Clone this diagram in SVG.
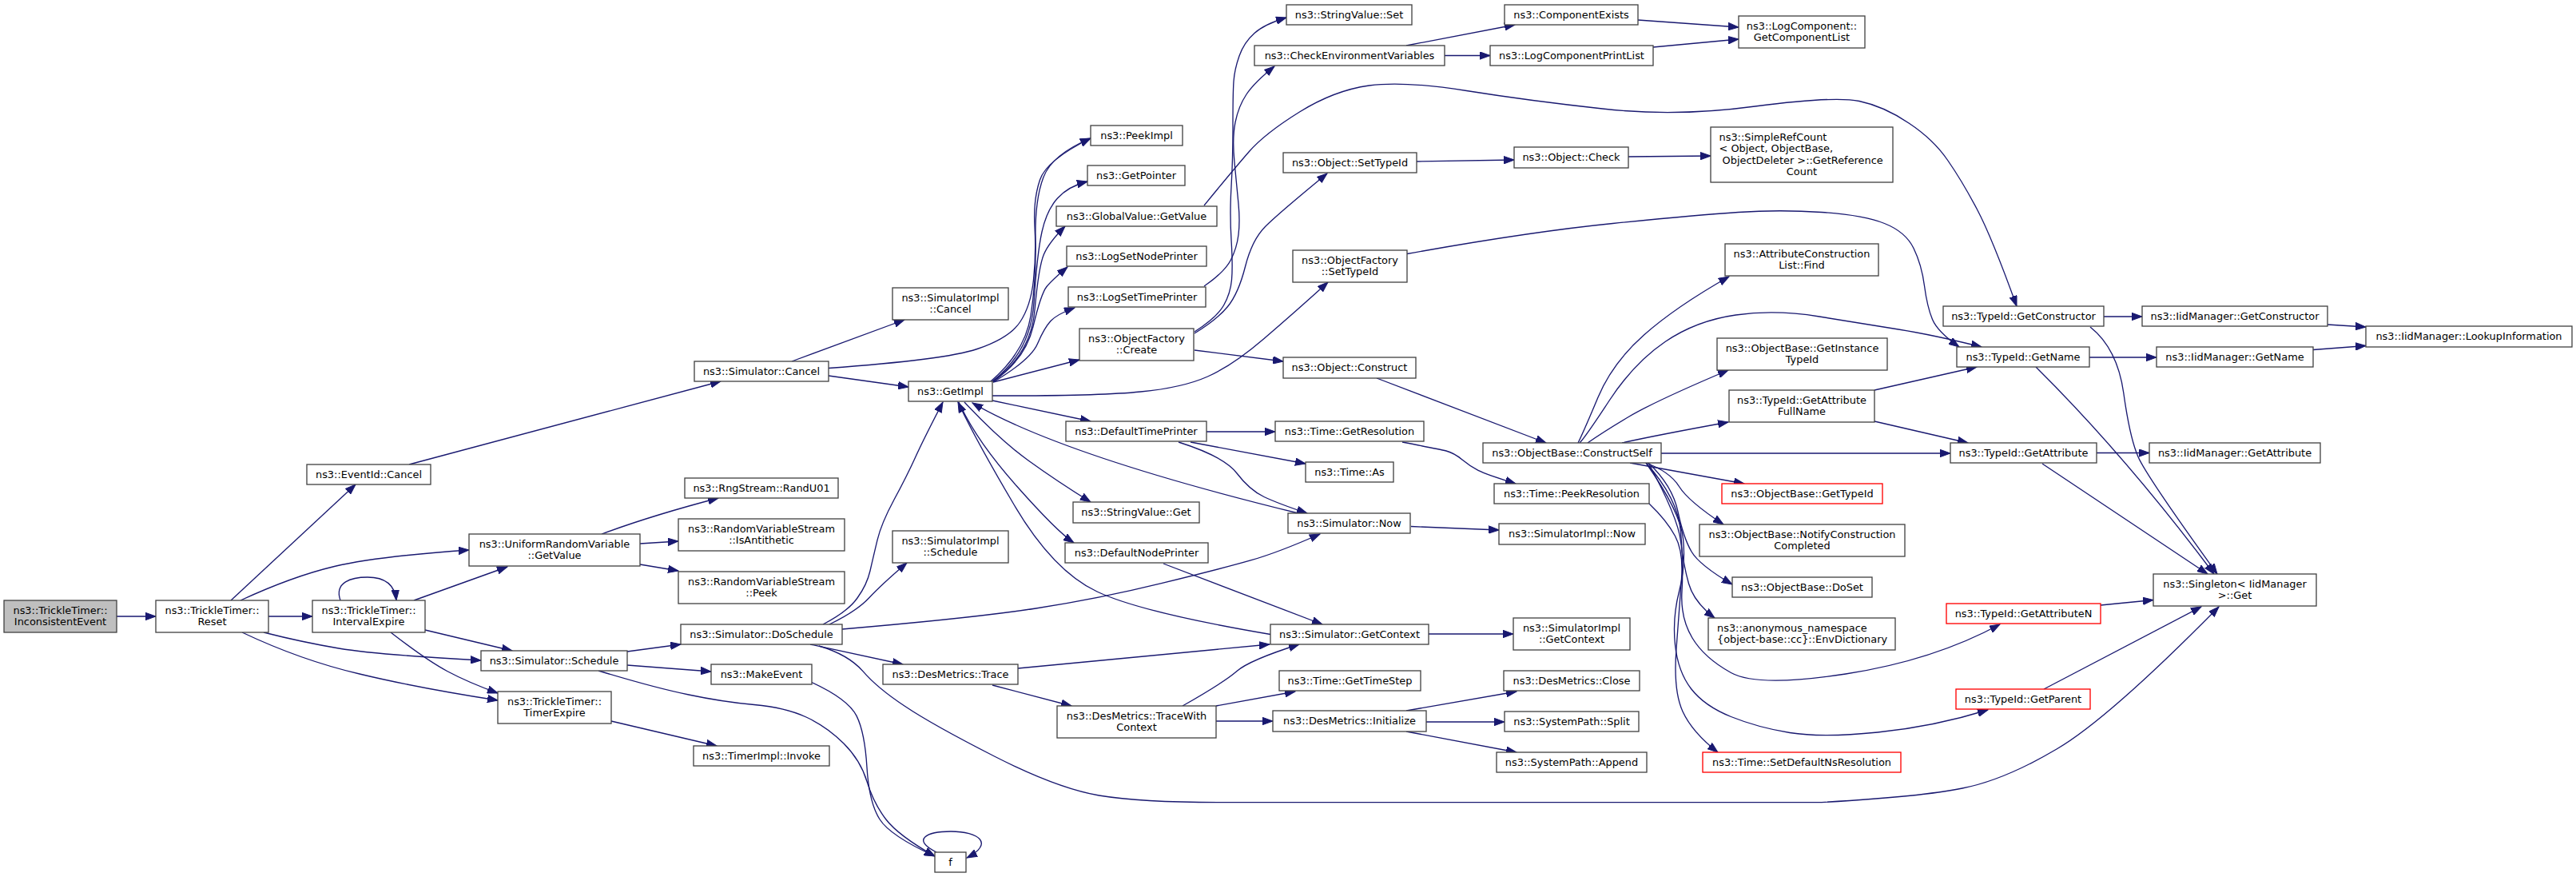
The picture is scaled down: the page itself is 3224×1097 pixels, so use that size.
<svg xmlns="http://www.w3.org/2000/svg" width="3224" height="1097" viewBox="0 0 3224 1097">
<defs>
<marker id="ah" markerWidth="14" markerHeight="10" refX="13" refY="5" orient="auto" markerUnits="userSpaceOnUse"><path d="M0,0.3 L13,5 L0,9.7 Z" fill="#191970" stroke="#191970" stroke-width="1"/></marker>
</defs>
<style>
.bg{fill:#fff;stroke:none}
.e path{fill:none;stroke:#191970;stroke-width:1.33;marker-end:url(#ah)}
.n rect{fill:#fff;stroke:#444;stroke-width:1.33}
.r rect{stroke:#ff0000}
.root rect{fill:#bfbfbf}
text{font-family:"DejaVu Sans",sans-serif;font-size:12.9px;fill:#000;text-anchor:middle}
text.l{text-anchor:start}
</style>
<rect class="bg" x="0" y="0" width="3224" height="1097"/>
<g id="edges" class="e">
<path d="M146,771 L195,771"/>
<path d="M289,751 L445,606"/>
<path d="M301,751 Q366,721 418.5,708.5 Q471,696 587,688"/>
<path d="M336,771 L391,771"/>
<path d="M330,791 Q377,803 424,811 Q471,819 602,826"/>
<path d="M303,791 Q377,826 450,843 Q523,860.5 623,876"/>
<path d="M426,751 C418,728 440,722 460,722 C480,722 494,730 496,751"/>
<path d="M518,751 L635,709"/>
<path d="M532,788 L641,814"/>
<path d="M489,791 Q533.5,825.6 559.6,839.5 Q585.8,853.5 623,867"/>
<path d="M512,581 L902,477"/>
<path d="M753,668 Q815,645 899,623"/>
<path d="M801,680 L849,677"/>
<path d="M801,706 L849,714"/>
<path d="M785,815 L852,806"/>
<path d="M785,832 L890,840"/>
<path d="M749,839 Q820,860.5 862,869 Q904.6,878 944,881.5 Q983,885 1009,897 Q1035,909 1056,930 Q1077,951 1085,977.5 Q1093,1004 1108.5,1024.5 Q1124,1045 1170,1071"/>
<path d="M1016,853.5 Q1061.5,874.5 1072,895.4 Q1082.4,916.3 1085,960 Q1087.7,1003.6 1100.8,1024.5 Q1113.8,1045.4 1170,1071"/>
<path d="M1172,1066 C1140,1050 1160,1040 1190,1040 C1225,1040 1245,1055 1210,1073"/>
<path d="M765,902 L897,933"/>
<path d="M991,452 L1132,400"/>
<path d="M1037,470 L1137,484"/>
<path d="M1037,460.5 Q1183,450 1223,436.5 Q1263,423 1276.5,403 Q1290,383 1293.5,350 Q1297,317 1295,283.5 Q1293,250 1301.5,225 Q1310,200 1365,173"/>
<path d="M1240,477 Q1283,440 1290,395 Q1297,350 1296,300 Q1295,250 1306,221.5 Q1317,193 1365,173"/>
<path d="M1242,477 Q1290,440 1294,378.5 Q1298,317 1304,290 Q1310,263 1323.5,248 Q1337,233 1361,227"/>
<path d="M1243,477 Q1290,443 1295,388 Q1300,333 1306.5,318 Q1313,303 1333,283"/>
<path d="M1243,477 Q1283,450 1293,408.5 Q1303,367 1310,358.5 Q1317,350 1336,334"/>
<path d="M1243,478 Q1290,450 1298.5,430 Q1307,410 1315,401.5 Q1323,393 1345,385"/>
<path d="M1243,478 L1351,450"/>
<path d="M1242,495 Q1375,495.4 1427.5,490 Q1480,485 1511.5,471 Q1543,457 1581.5,424 Q1620,391 1662,353"/>
<path d="M1242,501 L1365,527"/>
<path d="M1207,503 Q1251,550 1287,576 Q1323,602 1365,628"/>
<path d="M1200,503 Q1221,550 1272,607.5 Q1323,665 1344,679"/>
<path d="M1590,793.5 Q1428,766 1373,740 Q1318,714 1269.5,632 Q1221,550 1199,503"/>
<path d="M1625,642 Q1330,570 1217,504"/>
<path d="M1030,781 Q1061.5,764.6 1073,748 Q1085,731.4 1089,714 Q1093,696.5 1098,675.6 Q1103,654.7 1119,625 Q1135,595.4 1145.3,572.7 Q1155.6,550 1180,503"/>
<path d="M1038,781 Q1072,764.6 1087.5,748 Q1103,731.4 1135,704"/>
<path d="M1054,787 Q1218,773 1296.5,761 Q1375,749 1453.5,729.7 Q1532,710.5 1566,700.7 Q1600,691 1652,668"/>
<path d="M1014,806 L1130,831"/>
<path d="M1025,808 Q1061.5,818.7 1080,839.6 Q1098,860.5 1132,883 Q1166,906 1244.5,946 Q1323,986 1375.5,995 Q1428,1003.6 1524,1003.6 L2280,1003.6 Q2404,996.6 2456,986 Q2508.6,975.7 2574,937 Q2639,899 2777,759"/>
<path d="M1274,836 L1589,806"/>
<path d="M1242,857 L1341,883"/>
<path d="M1480,883 Q1532,853.5 1548,839.5 Q1564,825.6 1626,806"/>
<path d="M1522,883 L1621,865"/>
<path d="M1522,902 L1593,902"/>
<path d="M1475,553 Q1532,571 1548,592 Q1564,613 1582,621.5 Q1600,630 1636,642"/>
<path d="M1490,553 L1634,580"/>
<path d="M1510,540 L1596,540"/>
<path d="M1456,705 L1655,781"/>
<path d="M1766,658.5 L1876,663"/>
<path d="M1788,793 L1894,793"/>
<path d="M1760,889 L1898,865"/>
<path d="M1785,903 L1883,903"/>
<path d="M1760,915 L1898,941"/>
<path d="M1755,553 Q1800,561.7 1810,564 Q1820,566.7 1830,575 Q1840,583.3 1850,588.3 Q1860,593.3 1897,605"/>
<path d="M2064,630 Q2086,651 2096.5,670.5 Q2107,690 2104.5,724.5 Q2102,759 2098,811.5 Q2094,864 2106,890 Q2118,916 2150,941"/>
<path d="M1723,473 L1935,554"/>
<path d="M2040,579 L2183,605"/>
<path d="M2060,579 Q2090,590 2101.5,608.5 Q2113,627 2157,656"/>
<path d="M2063,579 Q2093,607 2100,640 Q2107,673 2117,690 Q2127,707 2168,731"/>
<path d="M2063,579 Q2100,647 2103.5,677 Q2107,707 2113.5,730 Q2120,753 2146,773"/>
<path d="M2060,579 Q2100,623 2103.5,665 Q2107,707 2105,740 Q2103,773 2118,798 Q2133,823 2166.5,841.5 Q2200,860 2310,843 Q2420,826 2503,781"/>
<path d="M2060,579 Q2103,640 2106.5,673.5 Q2110,707 2101.5,740 Q2093,773 2096.5,806.5 Q2100,840 2116.5,861.5 Q2133,883 2166.5,896.5 Q2200,910 2240,916.5 Q2280,923 2350,916 Q2420,909 2488,888"/>
<path d="M2079,567 L2441,567"/>
<path d="M2030,554 Q2070,545 2163,528"/>
<path d="M1987,554 Q2007,540 2039,521 Q2071,502 2163,463"/>
<path d="M1975,554 Q1982,540 2000,497 Q2018,454 2057.5,419 Q2097,384 2164,346"/>
<path d="M1977,554 Q1984,547 2014.5,500.5 Q2045,454 2084,427.5 Q2123,401 2172.5,394 Q2222,387 2277,396 Q2332,405 2376,412 Q2420,419 2480,434"/>
<path d="M1773,202 L1895,200"/>
<path d="M2038,196 L2141,195"/>
<path d="M1495,417 Q1523,400 1536.5,383.5 Q1550,367 1558.5,333.5 Q1567,300 1583.5,283.5 Q1600,267 1661,217"/>
<path d="M1495,438 L1606,452"/>
<path d="M1761,317.5 Q1914,290 2018.5,279.5 Q2123,269 2175.5,265.5 Q2228,262 2280,265.5 Q2332,269 2358.5,279.5 Q2385,290 2395,310.5 Q2405,331 2408.5,357.5 Q2412,384 2418.5,399.5 Q2425,415 2452,434"/>
<path d="M1507,257 Q1543,213 1563,190 Q1583,167 1626.5,140 Q1670,113 1713.5,107 Q1757,101 1835.5,113.5 Q1914,126 2005.5,136 Q2097,146.5 2196.5,133 Q2296,120 2327,126.5 Q2358,133 2389,154 Q2420,174.5 2438,201 Q2456,227 2474.5,262 Q2493,297 2524,383"/>
<path d="M1507,358 Q1533,340 1540.5,325 Q1548,310 1550,293.5 Q1552,277 1550,255 Q1548,233 1545,203 Q1542,173 1546,153 Q1550,133 1560,118 Q1570,103 1595,83"/>
<path d="M1495,415 Q1523,397 1531.5,382 Q1540,367 1541.5,350 Q1543,333 1541,300 Q1539,267 1541,233.5 Q1543,200 1543,158.5 Q1543,117 1544,102 Q1545,87 1551,70 Q1557,53 1570,41.5 Q1583,30 1610,22"/>
<path d="M1760,57 L1896,31"/>
<path d="M1808,69.5 L1865,69.5"/>
<path d="M2050,25 L2176,34"/>
<path d="M2069,59 L2176,49"/>
<path d="M2633,396 L2681,396"/>
<path d="M2616,409 Q2650,436 2657.8,491.5 Q2665.5,547 2675.8,571 Q2686,595 2775,718"/>
<path d="M2615,447 L2699,447"/>
<path d="M2548,459 Q2660,570 2771,718"/>
<path d="M2913,406 L2961,409"/>
<path d="M2895,437.5 L2961,432.5"/>
<path d="M2346,488 L2474,459"/>
<path d="M2346,527 L2463,554"/>
<path d="M2624,566.5 L2690,566.5"/>
<path d="M2556,580 L2763,718"/>
<path d="M2629,757 L2695,750.5"/>
<path d="M2558,862 L2755,759"/>
</g>
<g id="n0" class="n root"><rect x="5" y="751" width="141" height="40"/><text x="75.5" y="767.7">ns3::TrickleTimer::</text><text x="75.5" y="782.3">InconsistentEvent</text></g>
<g id="n1" class="n"><rect x="195" y="751" width="141" height="40"/><text x="265.5" y="767.7">ns3::TrickleTimer::</text><text x="265.5" y="782.3">Reset</text></g>
<g id="n2" class="n"><rect x="384" y="581" width="155" height="25"/><text x="461.5" y="597.8">ns3::EventId::Cancel</text></g>
<g id="n3" class="n"><rect x="587" y="668" width="214" height="40"/><text x="694" y="684.7">ns3::UniformRandomVariable</text><text x="694" y="699.3">::GetValue</text></g>
<g id="n4" class="n"><rect x="391" y="751" width="141" height="40"/><text x="461.5" y="767.7">ns3::TrickleTimer::</text><text x="461.5" y="782.3">IntervalExpire</text></g>
<g id="n5" class="n"><rect x="602" y="814" width="183" height="25"/><text x="693.5" y="830.8">ns3::Simulator::Schedule</text></g>
<g id="n6" class="n"><rect x="623" y="865" width="142" height="40"/><text x="694" y="881.7">ns3::TrickleTimer::</text><text x="694" y="896.3">TimerExpire</text></g>
<g id="n7" class="n"><rect x="869" y="452" width="168" height="25"/><text x="953" y="468.8">ns3::Simulator::Cancel</text></g>
<g id="n8" class="n"><rect x="1117" y="360" width="145" height="40"/><text x="1189.5" y="376.7">ns3::SimulatorImpl</text><text x="1189.5" y="391.3">::Cancel</text></g>
<g id="n9" class="n"><rect x="1137" y="477" width="105" height="25"/><text x="1189.5" y="493.8">ns3::GetImpl</text></g>
<g id="n10" class="n"><rect x="857" y="598" width="192" height="25"/><text x="953" y="614.8">ns3::RngStream::RandU01</text></g>
<g id="n11" class="n"><rect x="849" y="649" width="208" height="40"/><text x="953" y="665.7">ns3::RandomVariableStream</text><text x="953" y="680.3">::IsAntithetic</text></g>
<g id="n12" class="n"><rect x="849" y="715" width="208" height="40"/><text x="953" y="731.7">ns3::RandomVariableStream</text><text x="953" y="746.3">::Peek</text></g>
<g id="n13" class="n"><rect x="852" y="781" width="202" height="25"/><text x="953" y="797.8">ns3::Simulator::DoSchedule</text></g>
<g id="n14" class="n"><rect x="890" y="831" width="126" height="25"/><text x="953" y="847.8">ns3::MakeEvent</text></g>
<g id="n15" class="n"><rect x="868" y="933" width="170" height="25"/><text x="953" y="949.8">ns3::TimerImpl::Invoke</text></g>
<g id="n16" class="n"><rect x="1170" y="1066" width="39" height="25"/><text x="1189.5" y="1082.8">f</text></g>
<g id="n17" class="n"><rect x="1117" y="664" width="145" height="40"/><text x="1189.5" y="680.7">ns3::SimulatorImpl</text><text x="1189.5" y="695.3">::Schedule</text></g>
<g id="n18" class="n"><rect x="1105" y="831" width="169" height="25"/><text x="1189.5" y="847.8">ns3::DesMetrics::Trace</text></g>
<g id="n19" class="n"><rect x="1323" y="883" width="199" height="40"/><text x="1422.5" y="899.7">ns3::DesMetrics::TraceWith</text><text x="1422.5" y="914.3">Context</text></g>
<g id="n20" class="n"><rect x="1365" y="157" width="115" height="25"/><text x="1422.5" y="173.8">ns3::PeekImpl</text></g>
<g id="n21" class="n"><rect x="1361" y="207" width="122" height="25"/><text x="1422" y="223.8">ns3::GetPointer</text></g>
<g id="n22" class="n"><rect x="1322" y="258" width="201" height="25"/><text x="1422.5" y="274.8">ns3::GlobalValue::GetValue</text></g>
<g id="n23" class="n"><rect x="1335" y="308" width="175" height="25"/><text x="1422.5" y="324.8">ns3::LogSetNodePrinter</text></g>
<g id="n24" class="n"><rect x="1337" y="359" width="172" height="25"/><text x="1423" y="375.8">ns3::LogSetTimePrinter</text></g>
<g id="n25" class="n"><rect x="1351" y="411" width="143" height="40"/><text x="1422.5" y="427.7">ns3::ObjectFactory</text><text x="1422.5" y="442.3">::Create</text></g>
<g id="n26" class="n"><rect x="1334" y="527" width="176" height="25"/><text x="1422" y="543.8">ns3::DefaultTimePrinter</text></g>
<g id="n27" class="n"><rect x="1343" y="628" width="158" height="26"/><text x="1422" y="645.3">ns3::StringValue::Get</text></g>
<g id="n28" class="n"><rect x="1333" y="679" width="179" height="25"/><text x="1422.5" y="695.8">ns3::DefaultNodePrinter</text></g>
<g id="n29" class="n"><rect x="1610" y="6" width="157" height="25"/><text x="1688.5" y="22.8">ns3::StringValue::Set</text></g>
<g id="n30" class="n"><rect x="1570" y="57" width="238" height="25"/><text x="1689" y="73.8">ns3::CheckEnvironmentVariables</text></g>
<g id="n31" class="n"><rect x="1883" y="6" width="167" height="25"/><text x="1966.5" y="22.8">ns3::ComponentExists</text></g>
<g id="n32" class="n"><rect x="1865" y="57" width="204" height="25"/><text x="1967" y="73.8">ns3::LogComponentPrintList</text></g>
<g id="n33" class="n"><rect x="2176" y="20" width="158" height="40"/><text x="2255" y="36.7">ns3::LogComponent::</text><text x="2255" y="51.3">GetComponentList</text></g>
<g id="n34" class="n"><rect x="1606" y="191" width="167" height="25"/><text x="1689.5" y="207.8">ns3::Object::SetTypeId</text></g>
<g id="n35" class="n"><rect x="1895" y="184" width="143" height="26"/><text x="1966.5" y="201.3">ns3::Object::Check</text></g>
<g id="n36" class="n"><rect x="2141" y="159" width="228" height="69"/><text class="l" x="2151.5" y="175.6">ns3::SimpleRefCount</text><text class="l" x="2151.5" y="190.2">&lt; Object, ObjectBase,</text><text class="l" x="2155.6" y="204.8">ObjectDeleter &gt;::GetReference</text><text x="2255" y="219.4">Count</text></g>
<g id="n37" class="n"><rect x="1618" y="313" width="143" height="40"/><text x="1689.5" y="329.7">ns3::ObjectFactory</text><text x="1689.5" y="344.3">::SetTypeId</text></g>
<g id="n38" class="n"><rect x="1606" y="447" width="166" height="26"/><text x="1689" y="464.3">ns3::Object::Construct</text></g>
<g id="n39" class="n"><rect x="1596" y="527" width="186" height="25"/><text x="1689" y="543.8">ns3::Time::GetResolution</text></g>
<g id="n40" class="n"><rect x="1634" y="578" width="110" height="25"/><text x="1689" y="594.8">ns3::Time::As</text></g>
<g id="n41" class="n"><rect x="1612" y="642" width="153" height="25"/><text x="1688.5" y="658.8">ns3::Simulator::Now</text></g>
<g id="n42" class="n"><rect x="1590" y="781" width="198" height="25"/><text x="1689" y="797.8">ns3::Simulator::GetContext</text></g>
<g id="n43" class="n"><rect x="1601" y="839" width="177" height="25"/><text x="1689.5" y="855.8">ns3::Time::GetTimeStep</text></g>
<g id="n44" class="n"><rect x="1593" y="889" width="192" height="26"/><text x="1689" y="906.3">ns3::DesMetrics::Initialize</text></g>
<g id="n45" class="n"><rect x="1856" y="554" width="223" height="25"/><text x="1967.5" y="570.8">ns3::ObjectBase::ConstructSelf</text></g>
<g id="n46" class="n"><rect x="1870" y="605" width="194" height="25"/><text x="1967" y="621.8">ns3::Time::PeekResolution</text></g>
<g id="n47" class="n"><rect x="1876" y="655" width="183" height="26"/><text x="1967.5" y="672.3">ns3::SimulatorImpl::Now</text></g>
<g id="n48" class="n"><rect x="1894" y="773" width="146" height="40"/><text x="1967" y="789.7">ns3::SimulatorImpl</text><text x="1967" y="804.3">::GetContext</text></g>
<g id="n49" class="n"><rect x="1882" y="839" width="170" height="25"/><text x="1967" y="855.8">ns3::DesMetrics::Close</text></g>
<g id="n50" class="n"><rect x="1883" y="890" width="168" height="25"/><text x="1967" y="906.8">ns3::SystemPath::Split</text></g>
<g id="n51" class="n"><rect x="1873" y="941" width="188" height="25"/><text x="1967" y="957.8">ns3::SystemPath::Append</text></g>
<g id="n52" class="n"><rect x="2159" y="305" width="192" height="40"/><text x="2255" y="321.7">ns3::AttributeConstruction</text><text x="2255" y="336.3">List::Find</text></g>
<g id="n53" class="n"><rect x="2149" y="423" width="213" height="40"/><text x="2255.5" y="439.7">ns3::ObjectBase::GetInstance</text><text x="2255.5" y="454.3">TypeId</text></g>
<g id="n54" class="n"><rect x="2164" y="488" width="182" height="40"/><text x="2255" y="504.7">ns3::TypeId::GetAttribute</text><text x="2255" y="519.3">FullName</text></g>
<g id="n55" class="n r"><rect x="2155" y="605" width="201" height="25"/><text x="2255.5" y="621.8">ns3::ObjectBase::GetTypeId</text></g>
<g id="n56" class="n"><rect x="2127" y="656" width="257" height="40"/><text x="2255.5" y="672.7">ns3::ObjectBase::NotifyConstruction</text><text x="2255.5" y="687.3">Completed</text></g>
<g id="n57" class="n"><rect x="2168" y="722" width="175" height="25"/><text x="2255.5" y="738.8">ns3::ObjectBase::DoSet</text></g>
<g id="n58" class="n"><rect x="2138" y="773" width="234" height="40"/><text class="l" x="2149" y="789.7">ns3::anonymous_namespace</text><text class="l" x="2149" y="804.3">{object-base::cc}::EnvDictionary</text></g>
<g id="n59" class="n r"><rect x="2131" y="941" width="248" height="25"/><text x="2255" y="957.8">ns3::Time::SetDefaultNsResolution</text></g>
<g id="n60" class="n"><rect x="2432" y="383" width="201" height="25"/><text x="2532.5" y="399.8">ns3::TypeId::GetConstructor</text></g>
<g id="n61" class="n"><rect x="2449" y="434" width="166" height="25"/><text x="2532" y="450.8">ns3::TypeId::GetName</text></g>
<g id="n62" class="n"><rect x="2441" y="554" width="183" height="25"/><text x="2532.5" y="570.8">ns3::TypeId::GetAttribute</text></g>
<g id="n63" class="n r"><rect x="2436" y="755" width="193" height="25"/><text x="2532.5" y="771.8">ns3::TypeId::GetAttributeN</text></g>
<g id="n64" class="n r"><rect x="2448" y="862" width="168" height="25"/><text x="2532" y="878.8">ns3::TypeId::GetParent</text></g>
<g id="n65" class="n"><rect x="2681" y="383" width="232" height="25"/><text x="2797" y="399.8">ns3::IidManager::GetConstructor</text></g>
<g id="n66" class="n"><rect x="2699" y="434" width="196" height="25"/><text x="2797" y="450.8">ns3::IidManager::GetName</text></g>
<g id="n67" class="n"><rect x="2690" y="554" width="214" height="25"/><text x="2797" y="570.8">ns3::IidManager::GetAttribute</text></g>
<g id="n68" class="n"><rect x="2961" y="408" width="258" height="26"/><text x="3090" y="425.3">ns3::IidManager::LookupInformation</text></g>
<g id="n69" class="n"><rect x="2695" y="718" width="204" height="40"/><text x="2797" y="734.7">ns3::Singleton&lt; IidManager</text><text x="2797" y="749.3">&gt;::Get</text></g>
</svg>
